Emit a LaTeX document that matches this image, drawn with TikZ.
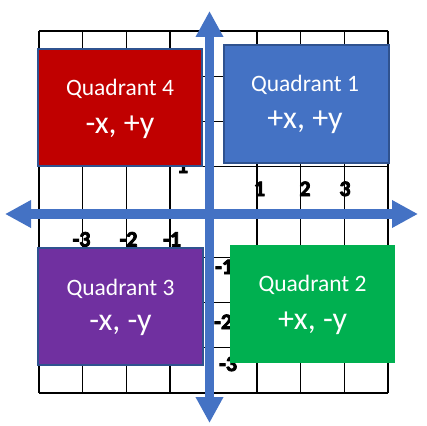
\documentclass[tikz,border=0pt]{standalone}
\usepackage{fontspec}
\setmainfont{Carlito}
\usetikzlibrary{arrows.meta}
\definecolor{axisblue}{HTML}{4472C4}
\definecolor{edgeblue}{HTML}{2F528F}
\definecolor{qred}{HTML}{C00000}
\definecolor{qgreen}{HTML}{00B050}
\definecolor{qpurple}{HTML}{7030A0}
\newcommand\heavy[1]{\special{pdf:literal direct 2 Tr 0.8 w}#1\special{pdf:literal direct 0 Tr}}
\begin{document}
\begin{tikzpicture}[x=1pt,y=-1pt,
  gridline/.style={line width=1.4pt},
  axis/.style={axisblue,line width=9.5pt,
    {Triangle[length=26pt,width=26pt]}-{Triangle[length=26pt,width=26pt]}},
  tick/.style={anchor=base,inner sep=0pt,font=\bfseries\fontsize{22}{26}\selectfont},
  quad/.style={draw=edgeblue,line width=2.5pt,inner sep=0pt},
  title/.style={anchor=base,inner sep=0pt,text=white,font=\fontsize{23.5}{28}\selectfont},
  signs/.style={anchor=base,inner sep=0pt,text=white,font=\fontsize{32}{38}\selectfont}]
\useasboundingbox (0,0) rectangle (427,425);
% grid
\foreach \i in {0,...,8}
  \draw[gridline] ({39+43.625*\i},31) -- ({39+43.625*\i},393);
\foreach \j in {0,...,8}
  \draw[gridline] (39,{31+45.25*\j}) -- (388,{31+45.25*\j});
% tick labels
\node[tick] (x1) at (259.5,196) {\heavy{1}};
\node[tick] (x2) at (305,196) {\heavy{2}};
\node[tick] (x3) at (345,196) {\heavy{3}};
\node[tick] (xm3) at (81.5,246.5) {\heavy{-3}};
\node[tick] (xm2) at (128.5,246.5) {\heavy{-2}};
\node[tick] (xm1) at (172,246.5) {\heavy{-1}};
\node[tick] (y1) at (182.5,173) {\heavy{1}};
\node[tick,anchor=base west] (ym1) at (215,274) {\heavy{-1}};
\node[tick,anchor=base west] (ym2) at (214,329) {\heavy{-2}};
\node[tick,anchor=base west] (ym3) at (219,371) {\heavy{-3}};
% axes
\coordinate (west) at (5,214);
\coordinate (east) at (418,214);
\coordinate (north) at (209.5,11);
\coordinate (south) at (209.5,423);
\draw[axis] (west) -- (east);
\draw[axis] (north) -- (south);
% quadrants
\node[quad,fill=qred,minimum width=164pt,minimum height=117pt] (q4) at (120,107.5) {};
\node[quad,fill=axisblue,minimum width=165pt,minimum height=118pt] (q1) at (306.5,104) {};
\node[quad,fill=qpurple,minimum width=165pt,minimum height=117pt] (q3) at (120.5,306.5) {};
\node[fill=qgreen,inner sep=0pt,minimum width=165pt,minimum height=118pt] (q2) at (312.5,304) {};
\node[title] (t4) at (120,95.5) {Quadrant 4};
\node[signs] (s4) at (120,133) {-x, +y};
\node[title] (t1) at (305,92) {Quadrant 1};
\node[signs] (s1) at (305,128.5) {+x, +y};
\node[title] (t3) at (120.5,295) {Quadrant 3};
\node[signs] (s3) at (120.5,330.5) {-x, -y};
\node[title] (t2) at (312.5,291.5) {Quadrant 2};
\node[signs] (s2) at (312.5,329.5) {+x, -y};
\end{tikzpicture}
\end{document}
